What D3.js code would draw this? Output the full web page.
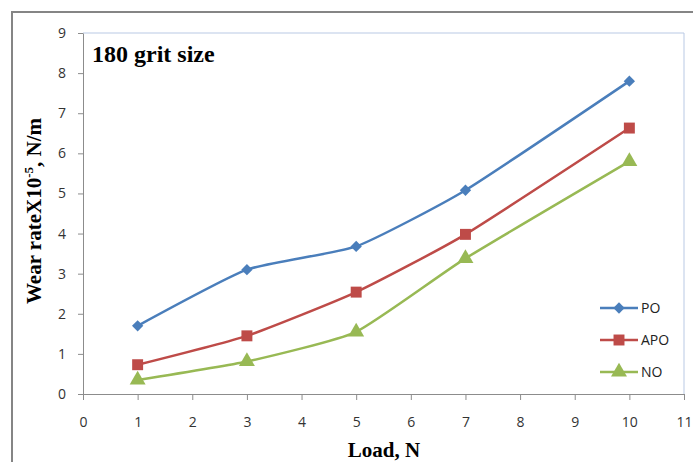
<!DOCTYPE html>
<html>
<head>
<meta charset="utf-8">
<script src="https://cdn.jsdelivr.net/npm/d3@7"></script>
<style>
  body { margin: 0; background: #fff; }
  svg { display: block; }
</style>
</head>
<body>
<div id="graph"></div>
<script>
// Load values on the x axis
const loads = [1, 3, 5, 7, 10];

// Wear rate for each series (x10^-5 N/m)
const poValues = [1.70, 3.10, 3.68, 5.08, 7.80];
const apoValues = [0.73, 1.45, 2.54, 3.98, 6.63];
const noValues = [0.35, 0.81, 1.55, 3.38, 5.80];

const seriesNames = ["PO", "APO", "NO"];
const xTicks = [0, 1, 2, 3, 4, 5, 6, 7, 8, 9, 10, 11];
const yTicks = [0, 1, 2, 3, 4, 5, 6, 7, 8, 9];

const colors = ["#4a7ebb", "#be4b48", "#98b954"];
// PO uses a square turned 45 degrees (a wide diamond like Excel's)
const shapes = [d3.symbolSquare, d3.symbolSquare, d3.symbolTriangle];
const shapeSizes = [64, 120, 110];
const shapeRotate = [45, 0, 0];

const width = 693, height = 462;
const plot = {left: 83, right: 684, top: 33, bottom: 394};

const svg = d3.select("#graph").append("svg")
  .attr("width", width)
  .attr("height", height);

// outer frame (top and left edges visible)
svg.append("path")
  .attr("d", "M12,470 L12,12 L700,12")
  .attr("fill", "none")
  .attr("stroke", "#858585")
  .attr("stroke-width", 2);

const x = d3.scaleLinear().domain([0, 11]).range([plot.left, plot.right]);
const y = d3.scaleLinear().domain([0, 9]).range([plot.bottom, plot.top]);

// plot area border (light blue)
svg.append("path")
  .attr("d", `M${plot.left},${plot.top} L${plot.right},${plot.top} L${plot.right},${plot.bottom}`)
  .attr("fill", "none")
  .attr("stroke", "#b9c9e4")
  .attr("stroke-width", 1);

// x axis
const xAxis = svg.append("g")
  .attr("transform", `translate(0,${plot.bottom})`)
  .call(d3.axisBottom(x).tickValues(xTicks).tickSize(6).tickPadding(17).tickSizeOuter(0));

// y axis
const yAxis = svg.append("g")
  .attr("transform", `translate(${plot.left},0)`)
  .call(d3.axisLeft(y).tickValues(yTicks).tickSize(5).tickPadding(12).tickSizeOuter(0));

[xAxis, yAxis].forEach(ax => {
  ax.select(".domain").attr("stroke", "#8c8c8c");
  ax.selectAll(".tick line").attr("stroke", "#8c8c8c");
  ax.selectAll(".tick text")
    .attr("fill", "#333")
    .style("font-family", "'Open Sans', 'DejaVu Sans', sans-serif")
    .style("font-size", "14px");
});

const allSeries = [poValues, apoValues, noValues];

const line = d3.line()
  .x((d, i) => x(loads[i]))
  .y(d => y(d))
  .curve(d3.curveCardinal.tension(0.5));

allSeries.forEach((vals, s) => {
  svg.append("path")
    .datum(vals)
    .attr("fill", "none")
    .attr("stroke", colors[s])
    .attr("stroke-width", 2.5)
    .attr("d", line);

  svg.selectAll(".m" + s)
    .data(vals)
    .enter().append("path")
    .attr("class", "m" + s)
    .attr("transform", (d, i) => `translate(${x(loads[i])},${y(d)}) rotate(${shapeRotate[s]})`)
    .attr("d", d3.symbol().type(shapes[s]).size(shapeSizes[s]))
    .attr("fill", colors[s]);
});

// legend
const legendY = [308, 340, 372];
seriesNames.forEach((name, s) => {
  const g = svg.append("g").attr("transform", `translate(600,${legendY[s]})`);
  g.append("line")
    .attr("x1", 0).attr("x2", 38)
    .attr("stroke", colors[s]).attr("stroke-width", 2.5);
  g.append("path")
    .attr("transform", `translate(19,0) rotate(${shapeRotate[s]})`)
    .attr("d", d3.symbol().type(shapes[s]).size(shapeSizes[s]))
    .attr("fill", colors[s]);
  g.append("text")
    .attr("x", 41).attr("y", 5)
    .attr("fill", "#222")
    .style("font-family", "'Open Sans', 'DejaVu Sans', sans-serif")
    .style("font-size", "14px")
    .text(name);
});

// chart title inside plot
svg.append("text")
  .attr("x", 92).attr("y", 62)
  .style("font-family", "'Liberation Serif', 'DejaVu Serif', serif")
  .style("font-weight", "bold")
  .style("font-size", "24px")
  .text("180 grit size");

// x axis title
svg.append("text")
  .attr("x", 384).attr("y", 457)
  .attr("text-anchor", "middle")
  .style("font-family", "'Liberation Serif', 'DejaVu Serif', serif")
  .style("font-weight", "bold")
  .style("font-size", "21px")
  .text("Load, N");

// y axis title
const yTitle = svg.append("text")
  .attr("transform", "translate(41,211) rotate(-90)")
  .attr("text-anchor", "middle")
  .style("font-family", "'Liberation Serif', 'DejaVu Serif', serif")
  .style("font-weight", "bold")
  .style("font-size", "21px");
yTitle.append("tspan").text("Wear rateX10");
yTitle.append("tspan").attr("dy", -8).style("font-size", "13px").text("-5");
yTitle.append("tspan").attr("dy", 8).text(", N/m");
</script>
</body>
</html>
